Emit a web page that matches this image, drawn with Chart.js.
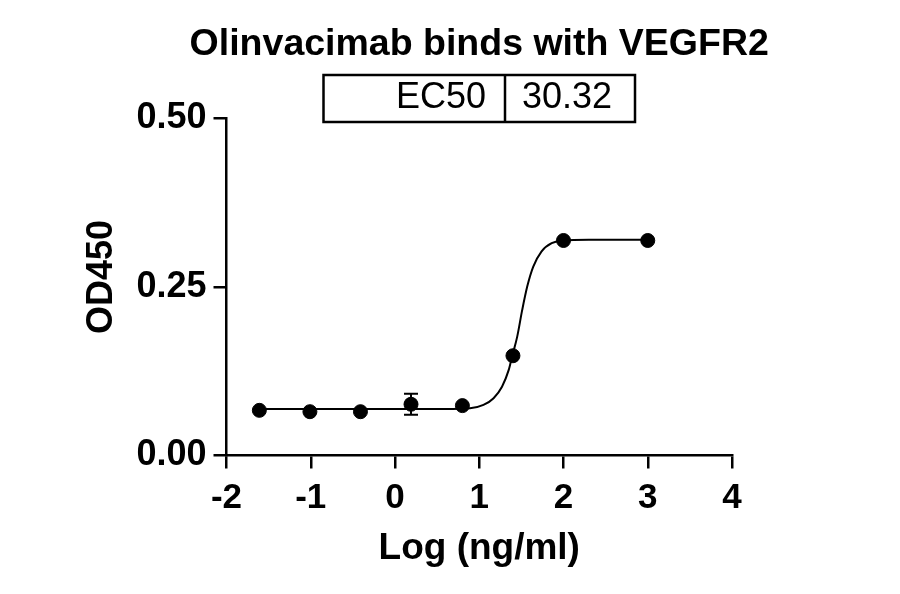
<!DOCTYPE html>
<html>
<head>
<meta charset="utf-8">
<script src="https://cdn.jsdelivr.net/npm/chart.js@4"></script>
<style>
  body { margin: 0; background: #fff; }
  canvas { display: block; }
</style>
</head>
<body>
<canvas id="chart" width="900" height="594"></canvas>
<script>
// measured points (log concentration, OD450)
const logConc = [-1.61, -1.01, -0.41, 0.19, 0.80, 1.40, 2.00, 3.00];
const od450 = [0.067, 0.065, 0.065, 0.076, 0.074, 0.148, 0.319, 0.319];
const sdErr = [0, 0, 0, 0.0155, 0, 0, 0, 0];

// fitted curve
const curveX = [-1.61, -1.0, 0.0, 0.6, 0.89, 1.05, 1.17, 1.27, 1.35, 1.39, 1.45, 1.51, 1.57, 1.64, 1.74, 1.86, 1.99, 2.3, 3.0];
const curveY = [0.069, 0.069, 0.069, 0.069, 0.070, 0.075, 0.085, 0.102, 0.127, 0.147, 0.176, 0.216, 0.251, 0.280, 0.303, 0.315, 0.319, 0.320, 0.320];

const xTicks = [-2, -1, 0, 1, 2, 3, 4];
const yTicks = [0, 0.25, 0.5];

const chartTitle = "Olinvacimab binds with VEGFR2";
const yTitle = "OD450";
const ec50Label = "EC50";
const ec50Value = "30.32";

const FONT = "'Liberation Sans', Arial, sans-serif";

const extras = {
  id: "extras",
  afterDatasetsDraw(chart) {
    const { ctx, scales } = chart;
    const x = scales.x, y = scales.y;
    ctx.save();
    ctx.strokeStyle = "#000";
    ctx.lineWidth = 2;
    for (let i = 0; i < logConc.length; i++) {
      if (!sdErr[i]) continue;
      const px = x.getPixelForValue(logConc[i]);
      const top = y.getPixelForValue(od450[i] + sdErr[i]);
      const bot = y.getPixelForValue(od450[i] - sdErr[i]);
      ctx.beginPath();
      ctx.moveTo(px, top); ctx.lineTo(px, bot);
      ctx.moveTo(px - 7, top); ctx.lineTo(px + 7, top);
      ctx.moveTo(px - 7, bot); ctx.lineTo(px + 7, bot);
      ctx.stroke();
    }
    ctx.restore();
  },
  afterDraw(chart) {
    const { ctx, chartArea } = chart;
    const cx = (chartArea.left + chartArea.right) / 2;
    ctx.save();
    ctx.fillStyle = "#000";
    ctx.font = "bold 37.5px " + FONT;
    ctx.textAlign = "center";
    ctx.textBaseline = "middle";
    ctx.fillText(chartTitle, cx, 45);

    // y axis title, sits a little above the axis middle
    ctx.save();
    ctx.translate(102, 277);
    ctx.rotate(-Math.PI / 2);
    ctx.font = "bold 36px " + FONT;
    ctx.fillText(yTitle, 0, 0);
    ctx.restore();

    // EC50 table
    ctx.strokeStyle = "#000";
    ctx.lineWidth = 2.5;
    ctx.strokeRect(323.5, 75, 311.5, 47);
    ctx.beginPath();
    ctx.moveTo(505, 75); ctx.lineTo(505, 122);
    ctx.stroke();
    ctx.font = "36px " + FONT;
    ctx.textAlign = "right";
    ctx.fillText(ec50Label, 486, 98);
    ctx.textAlign = "left";
    ctx.fillText(ec50Value, 522, 98);
    ctx.restore();
  }
};

new Chart(document.getElementById("chart"), {
  type: "scatter",
  data: {
    datasets: [
      {
        data: curveX.map((v, i) => ({ x: v, y: curveY[i] })),
        showLine: true,
        borderColor: "#000",
        borderWidth: 2,
        pointRadius: 0,
        cubicInterpolationMode: "monotone",
        fill: false
      },
      {
        data: logConc.map((v, i) => ({ x: v, y: od450[i] })),
        showLine: false,
        pointRadius: 7,
        pointBackgroundColor: "#000",
        pointBorderColor: "#000"
      }
    ]
  },
  options: {
    responsive: false,
    animation: false,
    events: [],
    layout: { padding: { left: 0, top: 118.5, right: 168, bottom: 0 } },
    plugins: { legend: { display: false }, tooltip: { enabled: false } },
    scales: {
      x: {
        type: "linear",
        min: -2,
        max: 4,
        afterBuildTicks(scale) { scale.ticks = xTicks.map(v => ({ value: v })); },
        afterFit(scale) { scale.height = 138.5; },
        grid: { drawOnChartArea: false, drawTicks: true, tickLength: 13, color: "#000", lineWidth: 2.5 },
        border: { color: "#000", width: 2.5 },
        ticks: { color: "#000", padding: 9, font: { family: FONT, size: 35, weight: "bold" }, callback: v => String(v) },
        title: { display: true, text: "Log (ng/ml)", color: "#000", font: { family: FONT, size: 37, weight: "bold" }, padding: { top: 0, bottom: 23 } }
      },
      y: {
        min: 0,
        max: 0.5,
        afterBuildTicks(scale) { scale.ticks = yTicks.map(v => ({ value: v })); },
        afterFit(scale) { scale.width = 226.5; },
        grid: { drawOnChartArea: false, drawTicks: true, tickLength: 13, color: "#000", lineWidth: 2.5 },
        border: { color: "#000", width: 2.5 },
        ticks: { color: "#000", padding: 7, font: { family: FONT, size: 36, weight: "bold" }, callback: v => Number(v).toFixed(2) },
        title: { display: false }
      }
    }
  },
  plugins: [extras]
});
</script>
</body>
</html>
